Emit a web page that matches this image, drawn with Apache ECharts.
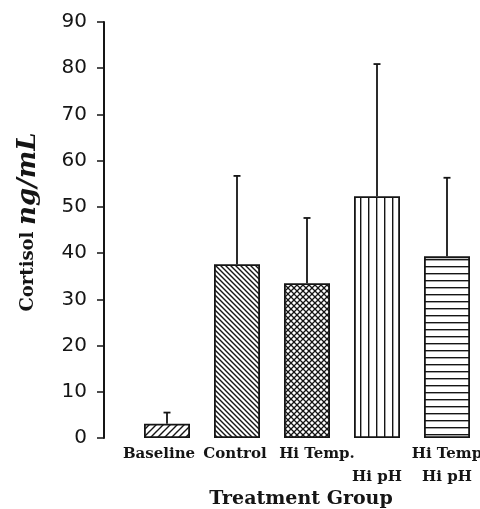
<!DOCTYPE html>
<html>
<head>
<meta charset="utf-8">
<script src="https://cdn.jsdelivr.net/npm/echarts@6/dist/echarts.min.js"></script>
<style>
  html, body { margin: 0; padding: 0; background: #fff; }
  #main { width: 480px; height: 509px; }
</style>
</head>
<body>
<div id="main"></div>
<script>
// data
var categories = ['Baseline', 'Control', 'Hi Temp.', 'Hi pH', 'Hi Temp\nHi pH'];
var meanValues = [3.1, 37.6, 33.5, 52.3, 39.3];
var upperValues = [5.5, 56.7, 47.6, 80.9, 56.3];
var yTicks = [0, 10, 20, 30, 40, 50, 60, 70, 80, 90];

var ink = '#151515';
var serif = 'DejaVu Serif';

// small canvases used as hatch fills
function hatch(size, lw, draw) {
    var c = document.createElement('canvas');
    c.width = size;
    c.height = size;
    var ctx = c.getContext('2d');
    ctx.fillStyle = '#fff';
    ctx.fillRect(0, 0, size, size);
    ctx.strokeStyle = ink;
    ctx.lineWidth = lw;
    draw(ctx, size);
    return { image: c, repeat: 'repeat' };
}
function fwd(ctx, s) { // "/"
    ctx.beginPath();
    ctx.moveTo(-1, s + 1); ctx.lineTo(s + 1, -1);
    ctx.moveTo(-1, 1); ctx.lineTo(1, -1);
    ctx.moveTo(s - 1, s + 1); ctx.lineTo(s + 1, s - 1);
    ctx.stroke();
}
function back(ctx, s) { // "\"
    ctx.beginPath();
    ctx.moveTo(-1, -1); ctx.lineTo(s + 1, s + 1);
    ctx.moveTo(s - 1, -1); ctx.lineTo(s + 1, 1);
    ctx.moveTo(-1, s - 1); ctx.lineTo(1, s + 1);
    ctx.stroke();
}

var fills = [
    hatch(7, 1.4, fwd),
    hatch(5, 1.4, back),
    hatch(6, 1.3, function (ctx, s) { fwd(ctx, s); back(ctx, s); }),
    hatch(8, 1.4, function (ctx, s) {
        ctx.beginPath(); ctx.moveTo(0.7, 0); ctx.lineTo(0.7, s); ctx.stroke();
    }),
    hatch(7, 1.4, function (ctx, s) {
        ctx.beginPath(); ctx.moveTo(0, 0.7); ctx.lineTo(s, 0.7); ctx.stroke();
    })
];

var barData = [];
var errData = [];
for (var i = 0; i < categories.length; i++) {
    barData.push({
        value: meanValues[i],
        itemStyle: { color: fills[i] }
    });
    errData.push([i, meanValues[i], upperValues[i]]);
}

var labStyle = { fontFamily: serif, fontWeight: 'bold', fontSize: 15, lineHeight: 23, color: ink };

var myChart = echarts.init(document.getElementById('main'));

var option = {
    backgroundColor: '#fff',
    animation: false,
    grid: {
        left: 132,
        width: 350,
        top: 22,
        bottom: 71,
        outerBoundsMode: 'none'
    },
    xAxis: {
        type: 'category',
        data: categories,
        axisLine: { show: false },
        axisTick: { show: false },
        axisLabel: {
            interval: 0,
            margin: 5,
            color: ink,
            fontFamily: serif,
            fontWeight: 'bold',
            fontSize: 15,
            lineHeight: 23,
            formatter: function (v, idx) {
                if (idx === 0) return '{l|' + v + '}';
                if (idx === 1) return '{c|' + v + '}';
                if (idx === 2) return '{r|' + v + '}';
                if (idx === 3) return '\n' + v;
                return v;
            },
            rich: {
                l: Object.assign({ padding: [0, 16, 0, 0] }, labStyle),
                c: Object.assign({ padding: [0, 4, 0, 0] }, labStyle),
                r: Object.assign({ padding: [0, 0, 0, 20] }, labStyle)
            }
        },
        name: 'Treatment Group',
        nameLocation: 'middle',
        nameGap: 52,
        nameMoveOverlap: false,
        nameTextStyle: {
            color: ink,
            fontFamily: serif,
            fontWeight: 'bold',
            fontSize: 19,
            padding: [0, 12, 0, 0]
        }
    },
    yAxis: {
        type: 'value',
        min: 0,
        max: 90,
        interval: 10,
        offset: 28,
        splitLine: { show: false },
        axisLine: { show: true, lineStyle: { color: ink, width: 2 } },
        axisTick: { show: true, length: 7, lineStyle: { color: ink, width: 1.5 } },
        axisLabel: {
            margin: 17,
            color: ink,
            fontFamily: 'DejaVu Sans',
            fontSize: 20
        },
        name: '{a|Cortisol}  {b|ng/mL}',
        nameLocation: 'middle',
        nameGap: 63,
        nameMoveOverlap: false,
        nameTextStyle: {
            padding: [0, 0, 0, 16],
            rich: {
                a: {
                    color: ink,
                    fontFamily: serif,
                    fontWeight: 'bold',
                    fontSize: 18
                },
                b: {
                    color: ink,
                    fontFamily: serif,
                    fontStyle: 'italic',
                    fontWeight: 'bold',
                    fontSize: 26
                }
            }
        }
    },
    series: [
        {
            type: 'bar',
            data: barData,
            barWidth: 46,
            itemStyle: { borderColor: ink, borderWidth: 1.8 }
        },
        {
            type: 'custom',
            data: errData,
            z: 5,
            renderItem: function (params, api) {
                var base = api.coord([api.value(0), api.value(1)]);
                var top = api.coord([api.value(0), api.value(2)]);
                var style = { stroke: ink, lineWidth: 1.8 };
                return {
                    type: 'group',
                    children: [
                        { type: 'line', shape: { x1: base[0], y1: base[1], x2: top[0], y2: top[1] }, style: style },
                        { type: 'line', shape: { x1: top[0] - 3.5, y1: top[1], x2: top[0] + 3.5, y2: top[1] }, style: style }
                    ]
                };
            }
        }
    ]
};

myChart.setOption(option);
</script>
</body>
</html>
